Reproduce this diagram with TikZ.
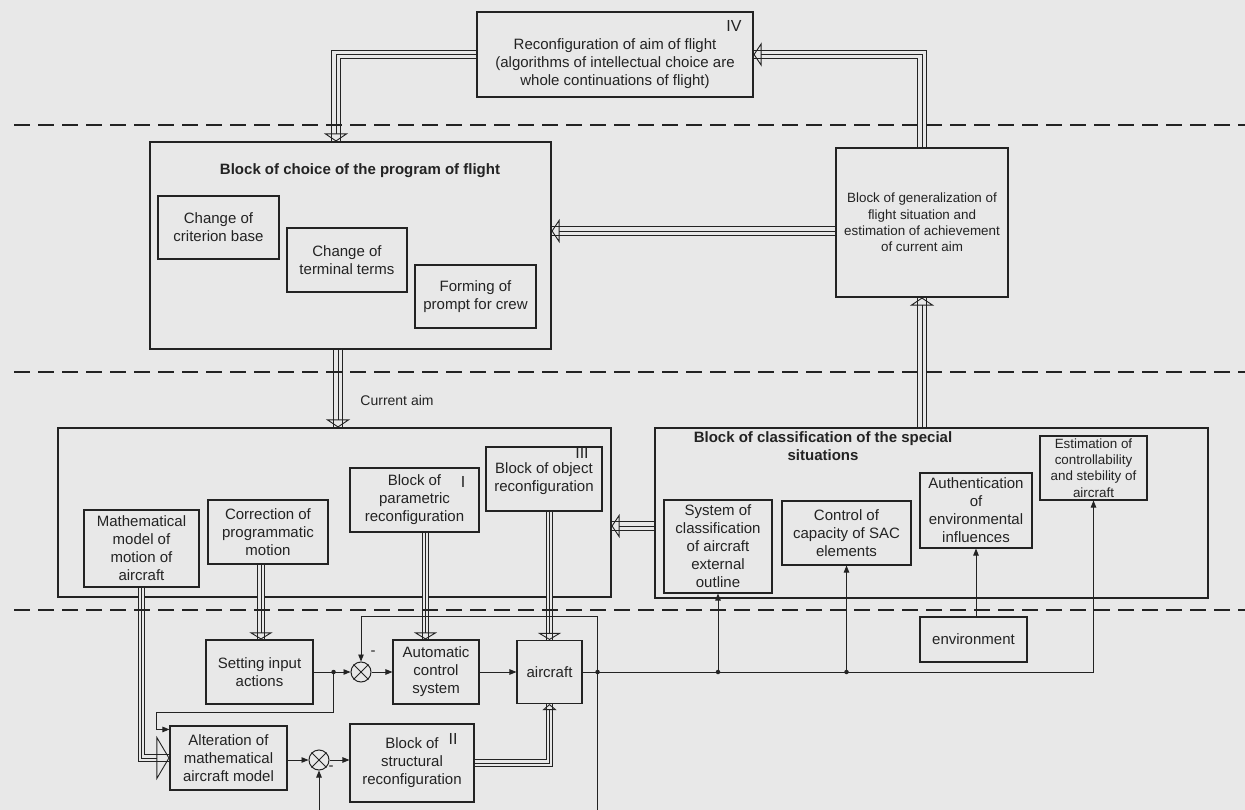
\documentclass[tikz,border=0pt]{standalone}
\usepackage{fontspec}
\setmainfont{Liberation Sans}
\usetikzlibrary{arrows.meta}
\definecolor{pagebg}{RGB}{232,232,232}
\definecolor{ink}{RGB}{35,35,35}

\begin{document}
\begin{tikzpicture}[x=1pt, y=-1pt, color=ink,
        every node/.style={inner sep=0pt, align=center, font=\fontsize{15}{18}\selectfont},
        blk/.style={draw, line width=1.1pt},
        ttl/.style={font=\fontsize{15}{18}\selectfont\bfseries},
        smalltxt/.style={font=\fontsize{13.4}{16.2}\selectfont},
        numeral/.style={font=\fontsize{16}{18}\selectfont},
        sig/.style={line width=0.9pt, -{Triangle[length=7pt, width=5.5pt]}},
        dot/.style={circle, fill, minimum size=4.5pt},
        sumj/.style={circle, draw, line width=1pt, minimum size=20pt},
        bus/.style={line width=0.9pt, -{Triangle[open, width=24pt, length=8pt]},
            preaction={draw, -, line width=9.5pt},
            preaction={draw=pagebg, -, line width=7.7pt}},
        fbus/.style={line width=0.9pt, -{Triangle[open, width=23pt, length=7pt]},
            preaction={draw, -, line width=7.5pt},
            preaction={draw=pagebg, -, line width=5.7pt}},
        lvl/.style={line width=2.2pt, dash pattern=on 16pt off 8pt}]

        \fill[pagebg] (0,0) rectangle (1245,810);
        \useasboundingbox (0,0) rectangle (1245,810);

        \node[blk, minimum width=276pt, minimum height=85pt] (aim) at (615,54.5) {};
        \node (aimtxt) at (615,63.5) {Reconfiguration of aim of flight\\(algorithms of intellectual choice are\\whole continuations of flight)};
        \node[numeral] (aimno) at (734,26) {IV};

        \node[blk, minimum width=401pt, minimum height=207pt] (choice) at (350.5,245.5) {};
        \node[ttl] (choicettl) at (360,171) {Block of choice of the program of flight};
        \node[blk, minimum width=121pt, minimum height=63pt] (crit) at (218.5,227.5) {Change of\\criterion base};
        \node[blk, minimum width=120pt, minimum height=64pt] (term) at (347,260) {Change of\\terminal terms};
        \node[blk, minimum width=121pt, minimum height=63pt] (prompt) at (475.5,296.5) {Forming of\\prompt for crew};

        \node[blk, smalltxt, minimum width=172pt, minimum height=149pt] (gen) at (922,222.5) {Block of generalization of\\flight situation and\\estimation of achievement\\of current aim};

        \node[blk, minimum width=553pt, minimum height=169pt] (rec) at (334.5,512.5) {};
        \node[blk, minimum width=116pt, minimum height=64pt] (obj) at (544,479) {Block of object\\reconfiguration};
        \node[numeral] (objno) at (582,453) {III};
        \node[blk, minimum width=129pt, minimum height=64pt] (param) at (414.5,500) {Block of\\parametric\\reconfiguration};
        \node[numeral] (paramno) at (463,482) {I};
        \node[blk, minimum width=120pt, minimum height=64pt] (corr) at (268,532) {Correction of\\programmatic\\motion};
        \node[blk, minimum width=115pt, minimum height=77pt] (math) at (141.5,548.5) {Mathematical\\model of\\motion of\\aircraft};

        \node[blk, minimum width=553pt, minimum height=170pt] (class) at (931.5,513) {};
        \node[ttl] (classttl) at (823,446) {Block of classification of the special\\situations};
        \node[blk, minimum width=108pt, minimum height=93pt] (sys) at (718,546.5) {System of\\classification\\of aircraft\\external\\outline};
        \node[blk, minimum width=129pt, minimum height=64pt] (ctrl) at (846.5,533) {Control of\\capacity of SAC\\elements};
        \node[blk, minimum width=112pt, minimum height=75pt] (auth) at (976,510.5) {Authentication\\of\\environmental\\influences};
        \node[blk, smalltxt, minimum width=107pt, minimum height=64pt] (est) at (1093.5,468) {Estimation of\\controllability\\and stebility of\\aircraft};
        \node[blk, minimum width=107pt, minimum height=45pt] (env) at (973.5,639.5) {environment};

        \node[blk, minimum width=107pt, minimum height=64pt] (setin) at (259.5,672) {Setting input\\actions};
        \node[sumj] (sum1) at (361,672) {};
        \node (sum1sgn) at (373,653) {-};
        \node[blk, minimum width=86pt, minimum height=64pt] (acs) at (436,672) {Automatic\\control\\system};
        \node[blk, minimum width=65pt, minimum height=63pt] (plane) at (549.5,672) {aircraft};
        \node[blk, minimum width=117pt, minimum height=64pt] (alter) at (228.5,758) {Alteration of\\mathematical\\aircraft model};
        \node[sumj] (sum2) at (319,760) {};
        \node (sum2sgn) at (331,768) {-};
        \node[blk, minimum width=124pt, minimum height=78pt] (struct) at (412,763) {Block of\\structural\\reconfiguration};
        \node[numeral] (structno) at (453,739) {II};

        \node[dot] (tap1) at ([xshift=20pt]setin.east) {};
        \node[dot] (tap2) at ([xshift=15pt]plane.east) {};
        \node[dot] (tap3) at (sys.south |- tap2) {};
        \node[dot] (tap4) at (ctrl.south |- tap2) {};
        \coordinate (fbk) at ([yshift=56pt]tap2);
        \coordinate (bend) at (156,712);
        \coordinate (loop) at (tap2 |- 0,834);

        \draw[line width=1pt] (sum1.north west) -- (sum1.south east) (sum1.north east) -- (sum1.south west);
        \draw[line width=1pt] (sum2.north west) -- (sum2.south east) (sum2.north east) -- (sum2.south west);

        \draw[bus] (aim.west) -| ([xshift=-14.5pt]choice.north);
        \draw[bus] (gen.north) |- (aim.east);
        \draw[bus] ([yshift=-8.5pt]gen.west) -- ([yshift=-8.5pt]gen.west -| choice.east);
        \draw[bus] ([xshift=-12.5pt]choice.south) -- ([xshift=-12.5pt]choice.south |- rec.north)
            node[pos=0.65, right=22pt, font=\fontsize{14}{16}\selectfont] (aimlbl) {Current aim};
        \draw[bus] (class.north -| gen.south) -- (gen.south);
        \draw[bus] ([yshift=-13pt]class.west) -- ([yshift=-13pt]class.west -| rec.east);
        \draw[fbus, -{Triangle[open, width=44pt, length=13pt]}] (math.south) |- (alter.west);
        \draw[fbus] ([xshift=-7pt]corr.south) -- ([xshift=-7pt]corr.south |- setin.north);
        \draw[fbus] ([xshift=11pt]param.south) -- ([xshift=11pt]param.south |- acs.north);
        \draw[fbus] (obj.south -| plane.north) -- (plane.north);
        \draw[fbus, -{Triangle[open, width=14pt, length=6pt]}] (struct.east) -| (plane.south);

        \draw[sig] (setin) -- (sum1);
        \draw[sig] (sum1) -- (acs);
        \draw[sig] (acs) -- (plane);
        \draw[sig] (plane.east) -| (est.south);
        \draw[sig] (tap3) -- (sys.south);
        \draw[sig] (tap4) -- (ctrl.south);
        \draw[sig] (env.north -| auth.south) -- (auth.south);
        \draw[sig] (tap2) -- (fbk) -| (sum1.north);
        \draw[sig] (tap2) -- (loop) -| (sum2.south);
        \draw[sig] (tap1) |- (bend) |- ([yshift=-4pt]alter.north west);
        \draw[sig] (alter.east |- sum2) -- (sum2);
        \draw[sig] (sum2) -- (struct.west |- sum2);

        \foreach \y in {125,372,610}
            \draw[lvl] (14,\y) -- (1245,\y);

\end{tikzpicture}
\end{document}
